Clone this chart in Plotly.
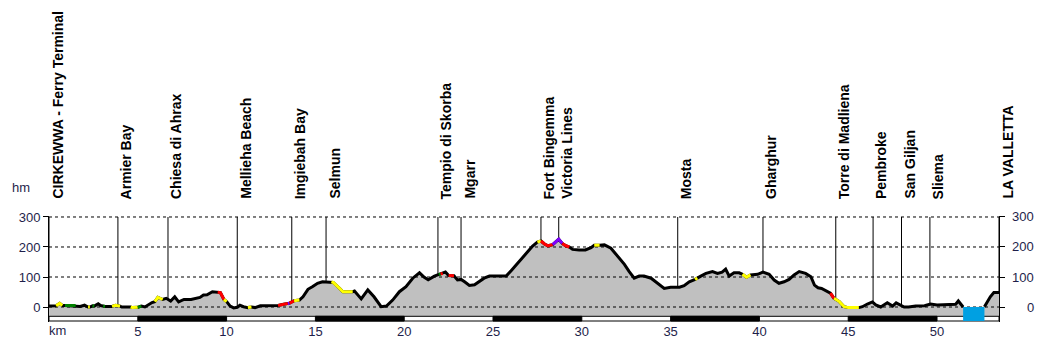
import plotly.graph_objects as go

# ---------------- data ----------------
profile_km = [0.0, 0.4, 0.6, 0.75, 0.9, 1.2, 1.5, 1.75, 2.0, 2.2, 2.3, 2.45, 2.55, 2.77, 2.9,
              3.05, 3.15, 3.55, 3.75, 4.0, 4.1, 4.6, 4.7, 5.0, 5.2, 5.4, 5.6, 5.8, 5.96, 6.13,
              6.4, 6.6, 6.85, 7.08, 7.3, 7.6, 8.0, 8.2, 8.5, 8.7, 8.9, 9.2, 9.5, 9.65, 9.85,
              10.0, 10.2, 10.4, 10.6, 10.75, 10.95, 11.2, 11.4, 11.6, 11.9, 12.6, 12.9, 13.2,
              13.45, 13.55, 13.8, 14.1, 14.3, 14.58, 14.85, 15.12, 15.4, 15.9, 16.0, 16.36,
              16.55, 17.1, 17.2, 17.58, 17.95, 18.3, 18.7, 19.0, 19.35, 19.73, 20.1, 20.48,
              20.86, 21.13, 21.35, 21.7, 21.95, 22.05, 22.17, 22.32, 22.5, 22.8, 23.0, 23.2,
              23.4, 23.67, 23.96, 24.23, 24.5, 24.8, 25.74, 26.02, 26.4, 26.67, 26.95, 27.23,
              27.5, 27.7, 27.9, 28.1, 28.36, 28.55, 28.7, 28.9, 29.1, 29.3, 29.48, 29.85,
              30.2, 30.52, 30.7, 31.0, 31.27, 31.64, 32.02, 32.4, 32.67, 32.95, 33.23, 33.5,
              33.9, 34.27, 34.64, 35.0, 35.5, 35.76, 36.05, 36.38, 36.5, 36.7, 36.99, 37.36,
              37.64, 37.9, 38.1, 38.3, 38.57, 38.86, 39.05, 39.27, 39.5, 39.9, 40.2, 40.55,
              40.83, 41.1, 41.39, 41.67, 41.95, 42.24, 42.6, 42.9, 43.1, 43.3, 43.5, 43.74,
              44.0, 44.2, 44.5, 44.77, 45.0, 45.6, 45.8, 46.08, 46.36, 46.55, 46.83, 47.2,
              47.5, 47.7, 47.96, 48.15, 48.4, 48.8, 49.3, 49.64, 50.0, 50.67, 51.05, 51.2,
              51.4, 51.47, 52.67, 52.82, 53.0, 53.2, 53.49]
profile_m = [3, 4, 12, 5, 5, 4, 5, 2, 6, 0, 0, 4, 3, 11, 5,
             3, 2, 2, 6, 3, 0, 0, -2, -1, 3, 0, 8, 15, 18, 32,
             25, 29, 20, 34, 17, 25, 25, 27, 32, 40, 41, 51, 49, 48, 25,
             18, 3, -3, -1, 6, 1, -2, 0, -2, 4, 4, 5, 9,
             12, 13, 21, 23, 34, 59, 68, 79, 84, 84, 82, 62,
             51, 51, 53, 27, 57, 34, 1, 3, 23, 51, 68, 96,
             114, 99, 91, 103, 108, 110, 112, 117, 105, 104, 90, 92,
             84, 72, 74, 84, 96, 103, 103, 121, 146, 162, 184, 203,
             216, 220, 210, 204, 208, 218, 226, 212, 204, 200, 192, 190,
             190, 198, 206, 206, 207, 196, 168, 142, 118, 96, 103, 103,
             96, 79, 62, 66, 66, 71, 84, 92, 97, 103, 112, 118,
             112, 116, 126, 103, 114, 114, 109, 99, 107, 109, 116, 109,
             90, 79, 84, 92, 107, 118, 112, 101, 73, 64, 62, 53,
             46, 29, 18, 1, -2, -2, 1, 10, 17, 7, 0, 14,
             3, 14, 7, 0, 0, 3, 4, 10, 7, 7, 9, 20,
             3, 0, 1, 18, 34, 48, 48]

# gradient-coloured stretches: start km, end km, colour
seg_start = [0.4, 0.9, 2.2, 2.45, 3.05, 3.55, 4.6, 5.0, 5.96, 9.5, 9.85, 11.2, 12.9, 13.45,
             13.55, 13.8, 15.9, 21.95, 22.05, 22.5, 27.5, 27.7, 28.36, 28.9, 30.7, 36.38,
             39.05, 44.0, 44.2]
seg_end = [0.75, 1.5, 2.3, 2.55, 3.15, 4.0, 5.0, 5.2, 6.4, 9.85, 10.0, 11.4, 13.45, 13.55,
           13.8, 14.1, 17.1, 22.05, 22.17, 22.8, 27.7, 28.36, 28.9, 29.3, 31.0, 36.5,
           39.5, 44.2, 45.6]
seg_color = ["#ffff00", "#008000", "#ffff00", "#008000", "#008000", "#ffff00", "#ffff00",
             "#008000", "#ffff00", "#ff0000", "#ffff00", "#ffff00", "#ff0000", "#8000ff",
             "#ff0000", "#ffff00", "#ffff00", "#008000", "#ff0000", "#ff0000", "#ffff00",
             "#ff0000", "#8000ff", "#ff0000", "#ffff00", "#ffff00", "#ffff00", "#ff0000",
             "#ffff00"]

place_names = ["CIRKEWWA - Ferry Terminal", "Armier Bay", "Chiesa di Ahrax", "Mellieha Beach",
               "Imgiebah Bay", "Selmun", "Tempio di Skorba", "Mgarr", "Fort Bingemma",
               "Victoria Lines", "Mosta", "Gharghur", "Torre di Madliena", "Pembroke",
               "San Giljan", "Sliema", "LA VALLETTA"]
place_km = [0.0, 3.88, 6.7, 10.6, 13.67, 15.6, 21.9, 23.2, 27.7, 28.7, 35.4, 40.2, 44.3,
            46.4, 48.0, 49.6, 53.49]

sea_start, sea_end = 51.47, 52.67

x_ticks = [5, 10, 15, 20, 25, 30, 35, 40, 45, 50]
x_ticktext = ["5", "10", "15", "20", "25", "30", "35", "40", "45", "50"]
y_ticks = [0, 100, 200, 300]
y_ticktext = ["0", "100", "200", "300"]

# ---------------- styling ----------------
X_MAX = 53.49
Y_MIN, Y_MAX = -50, 303.3
FILL_BASE = -30
BAR_TOP, BAR_BOT = -31, -46.7
FONT = "Liberation Sans, Arial, sans-serif"
NAVY = "#1e1e4a"
PLOT_TOP_PX, PLOT_BOT_PX = 216, 322


def paper_y(py):
    return (PLOT_BOT_PX - py) / (PLOT_BOT_PX - PLOT_TOP_PX)


fig = go.Figure()

# label guide lines (under fill)
lx, ly = [], []
for k in place_km:
    lx += [k, k, None]
    ly += [300, FILL_BASE, None]
fig.add_trace(go.Scatter(x=lx, y=ly, mode="lines", line=dict(color="black", width=1),
                         hoverinfo="skip", showlegend=False))

# baseline + gray fill
fig.add_trace(go.Scatter(x=[0, X_MAX], y=[FILL_BASE, FILL_BASE], mode="lines",
                         line=dict(width=0, color="rgba(0,0,0,0)"), hoverinfo="skip",
                         showlegend=False))
fig.add_trace(go.Scatter(x=profile_km, y=profile_m, mode="lines", fill="tonexty",
                         fillcolor="#c0c0c0", line=dict(width=0, color="rgba(0,0,0,0)"),
                         hoverinfo="skip", showlegend=False))

# dashed grid
gx, gy = [], []
for v in y_ticks:
    gx += [0, X_MAX, None]
    gy += [v, v, None]
fig.add_trace(go.Scatter(x=gx, y=gy, mode="lines",
                         line=dict(color="black", width=1, dash="3px,3px"),
                         hoverinfo="skip", showlegend=False))

# black profile line with gap over the sea crossing
px_, py_ = [], []
for k, m in zip(profile_km, profile_m):
    if px_ and px_[-1] is not None and px_[-1] <= sea_start < k:
        px_.append(None)
        py_.append(None)
    px_.append(k)
    py_.append(m)
fig.add_trace(go.Scatter(x=px_, y=py_, mode="lines", connectgaps=False,
                         line=dict(color="black", width=3), hoverinfo="skip",
                         showlegend=False))

# coloured gradient stretches
for a, b, c in zip(seg_start, seg_end, seg_color):
    sx = [k for k in profile_km if a <= k <= b]
    sy = [m for k, m in zip(profile_km, profile_m) if a <= k <= b]
    fig.add_trace(go.Scatter(x=sx, y=sy, mode="lines", line=dict(color=c, width=3),
                             hoverinfo="skip", showlegend=False))

# km bar
shapes = [dict(type="rect", xref="x", yref="y", x0=0, x1=X_MAX, y0=BAR_BOT, y1=BAR_TOP,
               fillcolor="white", line=dict(color="black", width=1), layer="above")]
marks = [0] + x_ticks + [X_MAX]
for i in range(len(marks) - 1):
    if i % 2 == 1:
        shapes.append(dict(type="rect", xref="x", yref="y", x0=marks[i], x1=marks[i + 1],
                           y0=BAR_BOT, y1=BAR_TOP, fillcolor="black",
                           line=dict(color="black", width=1), layer="above"))
# sea crossing
shapes.append(dict(type="rect", xref="x", yref="y", x0=sea_start, x1=sea_end, y0=BAR_BOT,
                   y1=0, fillcolor="#00a0e2", line=dict(width=0), layer="above"))

annotations = []
for name, k in zip(place_names, place_km):
    annotations.append(dict(x=k, y=paper_y(201), xref="x", yref="paper", text=name,
                            textangle=-90, showarrow=False, xanchor="left",
                            yanchor="bottom", xshift=-2,
                            font=dict(family=FONT, size=14, color="black", weight="bold")))
for v, t in zip(y_ticks, y_ticktext):
    annotations.append(dict(x=1.039, y=v, xref="paper", yref="y", text=t, showarrow=False,
                            xanchor="right", yanchor="middle",
                            font=dict(family=FONT, size=13, color=NAVY)))
annotations.append(dict(x=0, y=paper_y(330), xref="x", yref="paper", text="km",
                        showarrow=False, xanchor="left", yanchor="middle", xshift=-2,
                        font=dict(family=FONT, size=13, color=NAVY)))
annotations.append(dict(x=-0.0295, y=paper_y(187), xref="paper", yref="paper", text="hm",
                        showarrow=False, xanchor="center", yanchor="middle",
                        font=dict(family=FONT, size=13, color=NAVY)))

fig.update_layout(
    width=1050, height=346,
    margin=dict(l=49, r=51, t=PLOT_TOP_PX, b=346 - PLOT_BOT_PX, pad=0),
    paper_bgcolor="white", plot_bgcolor="white",
    shapes=shapes, annotations=annotations,
    xaxis=dict(range=[0, X_MAX], showgrid=False, zeroline=False, showline=False,
               automargin=False,
               tickvals=x_ticks, ticktext=x_ticktext, ticks="", ticklabelstandoff=0,
               tickfont=dict(family=FONT, size=13, color=NAVY)),
    yaxis=dict(range=[Y_MIN, Y_MAX], showgrid=False, zeroline=False, showline=True,
               automargin=False,
               linecolor="black", linewidth=1, mirror="ticks", ticks="outside",
               ticklen=5, tickcolor="black", tickvals=y_ticks, ticktext=y_ticktext,
               tickfont=dict(family=FONT, size=13, color=NAVY)),
)

fig.write_html("out.html")
